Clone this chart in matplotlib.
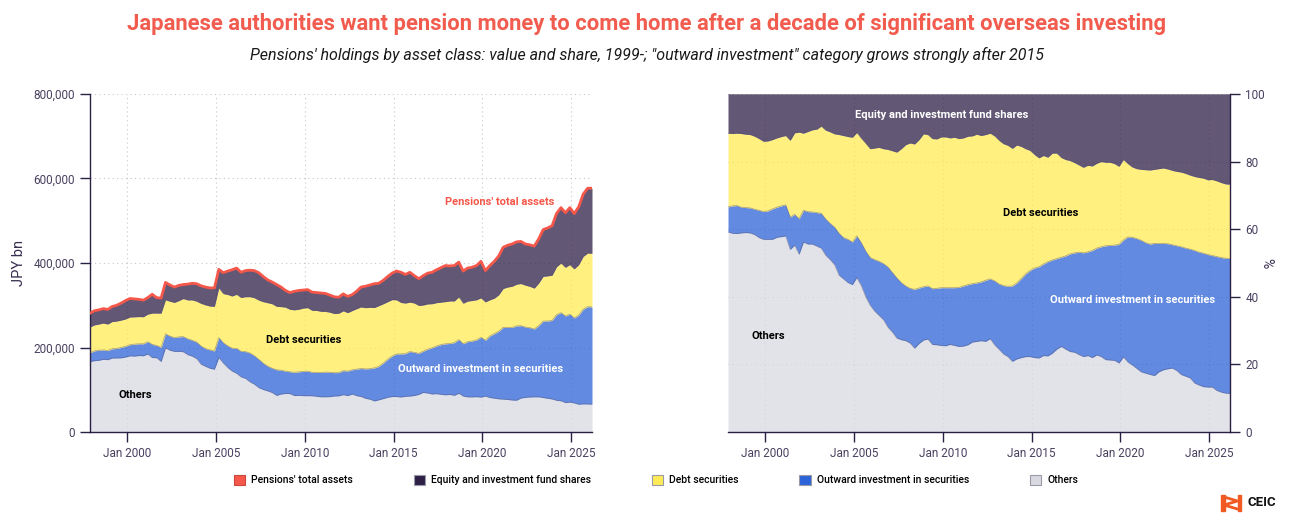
import numpy as np
import pandas as pd
import matplotlib
matplotlib.use("Agg")
import matplotlib.pyplot as plt
import matplotlib.dates as mdates
from matplotlib.patches import Patch, Rectangle
from matplotlib.lines import Line2D
from matplotlib.ticker import FuncFormatter, MultipleLocator

plt.rcParams['font.family'] = ['Roboto', 'DejaVu Sans']

# quarterly, Dec 1997 - Mar 2026
quarters = pd.date_range('1997-12-01', periods=114, freq='3MS')

# pensions' total assets, thousand JPY bn
total_k = [
    281, 287, 289, 292, 290, 297, 300, 305, 311, 316, 315, 314, 312, 318, 326, 318,
    317, 354, 348, 343, 347, 349, 350, 352, 351, 346, 343, 341, 341, 385, 377, 381,
    384, 388, 378, 382, 383, 382, 377, 368, 360, 355, 349, 343, 335, 330, 333, 335,
    336, 337, 331, 330, 329, 328, 324, 320, 319, 327, 321, 325, 333, 343, 345, 348,
    351, 352, 359, 368, 376, 381, 378, 373, 378, 370, 363, 370, 376, 378, 384, 389,
    394, 393, 394, 402, 381, 388, 390, 394, 404, 382, 394, 404, 417, 437, 442, 445,
    450, 451, 445, 443, 440, 457, 479, 483, 488, 517, 531, 519, 531, 517, 533, 563,
    577, 577,
]

# shares of total assets, %
others_pct = [
    59.2, 58.8, 58.7, 58.9, 59.0, 58.9, 58.4, 57.5, 57.0, 57.0, 57.0, 57.6, 57.8, 58.0, 54.0, 55.3,
    52.6, 56.2, 55.6, 55.6, 55.0, 54.4, 52.3, 51.0, 49.5, 46.4, 45.3, 44.2, 43.6, 45.7, 43.3, 40.0,
    37.5, 35.8, 34.5, 33.2, 31.0, 29.6, 27.8, 27.3, 27.0, 26.3, 24.8, 26.2, 27.2, 27.5, 25.9, 25.8,
    25.6, 25.5, 25.9, 25.6, 25.3, 25.4, 25.8, 26.6, 26.8, 27.0, 26.8, 27.6, 25.8, 24.5, 23.1, 22.3,
    20.9, 21.6, 22.0, 22.3, 22.3, 22.0, 21.9, 22.6, 22.5, 23.3, 24.5, 25.3, 24.5, 23.8, 23.6, 22.9,
    22.3, 22.6, 22.0, 22.8, 22.3, 21.4, 21.3, 21.2, 20.4, 22.2, 20.7, 19.8, 18.8, 17.8, 17.4, 17.0,
    16.7, 17.8, 18.4, 18.7, 18.9, 18.2, 17.0, 16.5, 16.0, 14.5, 13.9, 13.4, 13.3, 13.3, 12.3, 11.8,
    11.5, 11.4,
]
outward_pct = [
    7.4, 8.1, 8.3, 7.6, 7.4, 7.4, 7.5, 8.1, 8.2, 8.4, 9.0, 8.9, 9.1, 9.2, 9.6, 9.1,
    10.5, 9.4, 9.6, 9.5, 9.9, 10.3, 10.7, 10.7, 11.1, 12.4, 12.2, 12.8, 12.6, 12.3, 12.7, 13.5,
    14.1, 15.2, 16.0, 16.6, 17.8, 17.6, 17.8, 16.9, 16.2, 16.2, 17.4, 16.4, 15.8, 15.7, 16.5, 16.7,
    17.1, 17.2, 16.8, 17.1, 17.5, 17.8, 17.8, 17.3, 17.3, 17.4, 18.1, 17.7, 18.9, 19.3, 20.2, 20.8,
    22.3, 22.5, 23.4, 24.5, 25.5, 26.5, 27.0, 27.1, 27.9, 27.6, 26.8, 26.4, 27.6, 28.9, 29.4, 30.3,
    30.7, 30.7, 31.7, 31.6, 32.5, 33.7, 33.9, 34.1, 35.1, 34.6, 37.0, 37.8, 38.4, 38.9, 38.6, 38.6,
    39.1, 38.0, 37.4, 37.0, 36.5, 36.9, 37.8, 37.9, 38.1, 39.2, 39.3, 39.5, 39.2, 38.9, 39.6, 39.8,
    39.9, 39.9,
]
debt_pct = [
    21.8, 21.4, 21.4, 21.8, 21.7, 21.7, 21.6, 21.2, 20.8, 20.7, 20.5, 20.5, 20.5, 20.5, 22.7, 24.1,
    25.6, 22.8, 23.7, 24.3, 24.7, 25.8, 26.3, 27.1, 27.6, 29.2, 30.2, 30.4, 31.0, 30.6, 30.9, 31.9,
    32.2, 33.0, 33.7, 34.0, 34.8, 36.0, 37.2, 39.6, 41.8, 43.0, 43.0, 43.9, 45.2, 44.8, 44.4, 44.2,
    44.6, 44.6, 44.3, 44.5, 44.0, 43.8, 43.9, 43.7, 44.0, 43.3, 43.1, 43.1, 42.9, 42.5, 42.0, 41.7,
    40.7, 40.8, 39.1, 37.0, 35.5, 33.6, 32.2, 32.1, 30.9, 31.6, 31.2, 29.5, 28.5, 27.6, 26.7, 25.8,
    25.3, 25.6, 25.0, 25.1, 25.2, 24.7, 24.6, 24.1, 23.1, 23.8, 21.7, 20.8, 20.7, 21.0, 21.6, 21.9,
    21.9, 22.1, 22.3, 22.1, 22.0, 22.0, 22.1, 22.1, 21.9, 21.9, 22.1, 22.2, 22.1, 22.5, 22.4, 22.2,
    22.0, 22.0,
]
equity_pct = [
    11.6, 11.7, 11.6, 11.7, 11.9, 12.0, 12.5, 13.2, 14.0, 13.9, 13.5, 13.0, 12.6, 12.3, 13.7, 11.5,
    11.3, 11.6, 11.1, 10.6, 10.4, 9.5, 10.7, 11.2, 11.8, 12.0, 12.3, 12.6, 12.8, 11.4, 13.1, 14.6,
    16.2, 16.0, 15.8, 16.2, 16.4, 16.8, 17.2, 16.2, 15.0, 14.5, 14.8, 13.5, 11.8, 12.0, 13.2, 13.3,
    12.7, 12.7, 13.0, 12.8, 13.2, 13.0, 12.5, 12.4, 11.9, 12.3, 12.0, 11.6, 12.4, 13.7, 14.7, 15.2,
    16.1, 15.1, 15.5, 16.2, 16.7, 17.9, 18.9, 18.2, 18.7, 17.5, 17.5, 18.8, 19.4, 19.7, 20.3, 21.0,
    21.7, 21.1, 21.3, 20.5, 20.0, 20.2, 20.2, 20.6, 21.4, 19.4, 20.6, 21.6, 22.1, 22.3, 22.4, 22.5,
    22.3, 22.1, 21.9, 22.2, 22.6, 22.9, 23.1, 23.5, 24.0, 24.4, 24.7, 24.9, 25.4, 25.3, 25.7, 26.2,
    26.6, 26.7,
]

series_names = ["Others", "Outward investment in securities", "Debt securities",
                "Equity and investment fund shares"]
series_colors = ["#D9D9E2", "#2D63D8", "#FFEB55", "#2E1F47"]
total_color = "#F5584A"
axis_color = "#2B1F45"
label_color = "#4A4060"

shares = np.array([others_pct, outward_pct, debt_pct, equity_pct], dtype=float)
shares = shares / shares.sum(axis=0) * 100
total = np.array(total_k, dtype=float) * 1000
values = shares / 100 * total

fig = plt.figure(figsize=(12.94, 5.21), dpi=100)
ax1 = fig.add_axes([90 / 1294, 1 - 432 / 521, 502 / 1294, 338 / 521])
ax2 = fig.add_axes([728 / 1294, 1 - 432 / 521, 502 / 1294, 338 / 521])


def draw_stack(ax, data):
    base = np.zeros(len(quarters))
    for vals, col in zip(data, series_colors):
        top = base + vals
        ax.fill_between(quarters, base, top, color=col, alpha=0.75, lw=0, zorder=2)
        ax.plot(quarters, top, color="#55506A", lw=0.6, alpha=0.45, zorder=3)
        base = top
    return base


def style_axis(ax):
    ax.set_xlim(quarters[0], quarters[-1])
    ax.xaxis.set_major_locator(mdates.YearLocator(5))
    ax.xaxis.set_major_formatter(mdates.DateFormatter("Jan %Y"))
    ax.grid(True, ls=(0, (1, 3)), color="#C8C8C8", lw=0.8, zorder=0)
    ax.set_axisbelow(True)
    ax.tick_params(direction="out", length=7, width=1, color=axis_color,
                   labelcolor=label_color, labelsize=8.5, pad=4)
    for s in ax.spines.values():
        s.set_color(axis_color)
        s.set_linewidth(1)
    ax.spines["top"].set_visible(False)


# left chart: values
top = draw_stack(ax1, values)
ax1.plot(quarters, top, color=total_color, lw=2, zorder=4)
style_axis(ax1)
ax1.spines["right"].set_visible(False)
ax1.set_ylim(0, 800000)
ax1.yaxis.set_major_locator(MultipleLocator(200000))
ax1.yaxis.set_major_formatter(FuncFormatter(lambda v, p: f"{v:,.0f}"))
ax1.set_ylabel("JPY bn", fontsize=10.5, color="#3A2F50")
ax1.yaxis.set_label_coords(-0.128, 0.5)

lab = dict(fontsize=8, weight="bold", ha="center", va="center", transform=ax1.transAxes)
ax1.text(0.817, 0.680, "Pensions' total assets", color=total_color, **lab)
ax1.text(0.426, 0.272, "Debt securities", color="black", **lab)
ax1.text(0.090, 0.109, "Others", color="black", **lab)
ax1.text(0.779, 0.186, "Outward investment in securities", color="white", **lab)

# right chart: shares
draw_stack(ax2, shares)
style_axis(ax2)
ax2.spines["left"].set_visible(False)
ax2.yaxis.tick_right()
ax2.yaxis.set_label_position("right")
ax2.set_ylim(0, 100)
ax2.yaxis.set_major_locator(MultipleLocator(20))
ax2.set_ylabel("%", fontsize=10, color="#3A2F50", rotation=270)
ax2.yaxis.set_label_coords(1.086, 0.5)

lab["transform"] = ax2.transAxes
ax2.text(0.426, 0.938, "Equity and investment fund shares", color="white", **lab)
ax2.text(0.622, 0.648, "Debt securities", color="black", **lab)
ax2.text(0.805, 0.391, "Outward investment in securities", color="white", **lab)
ax2.text(0.080, 0.284, "Others", color="black", **lab)

fig.text(0.5, 1 - 24 / 521,
         "Japanese authorities want pension money to come home after a decade of significant overseas investing",
         ha="center", va="center", fontsize=15.8, weight="bold", color="#F25C4F")
fig.text(0.5, 1 - 55 / 521,
         "Pensions' holdings by asset class: value and share, 1999-; \"outward investment\" category grows strongly after 2015",
         ha="center", va="center", fontsize=11.5, style="italic", color="#1A1A1A")

# legend
handles = [Patch(facecolor=total_color, edgecolor="#C8473C", lw=0.8)]
labels = ["Pensions' total assets"]
for name, col in zip(series_names[::-1], series_colors[::-1]):
    handles.append(Patch(facecolor=col, edgecolor="#9A9AA8", lw=0.8))
    labels.append(name)
fig.legend(handles, labels, loc="center", bbox_to_anchor=(0.507, 1 - 480 / 521), ncol=5,
           frameon=False, handlelength=1.1, handleheight=1.2,
           handletextpad=0.6, columnspacing=5.8,
           prop={"weight": "medium", "size": 7.5})

# CEIC mark
orange = "#F15A22"
fig.add_artist(Rectangle((1221 / 1294, 1 - 511 / 521), 3.5 / 1294, 16 / 521,
                         transform=fig.transFigure, color=orange))
fig.add_artist(Rectangle((1237.5 / 1294, 1 - 511 / 521), 3.5 / 1294, 16 / 521,
                         transform=fig.transFigure, color=orange))
fig.add_artist(Line2D([1224 / 1294, 1237.5 / 1294, 1224 / 1294, 1237.5 / 1294],
                      [1 - 497 / 521, 1 - 501 / 521, 1 - 505 / 521, 1 - 509 / 521],
                      transform=fig.transFigure, color=orange, lw=2))
fig.text(1248 / 1294, 1 - 503 / 521, "CEIC", fontsize=9.5, weight="bold",
         ha="left", va="center", color="#111111")

fig.savefig("out.png", dpi=100)
